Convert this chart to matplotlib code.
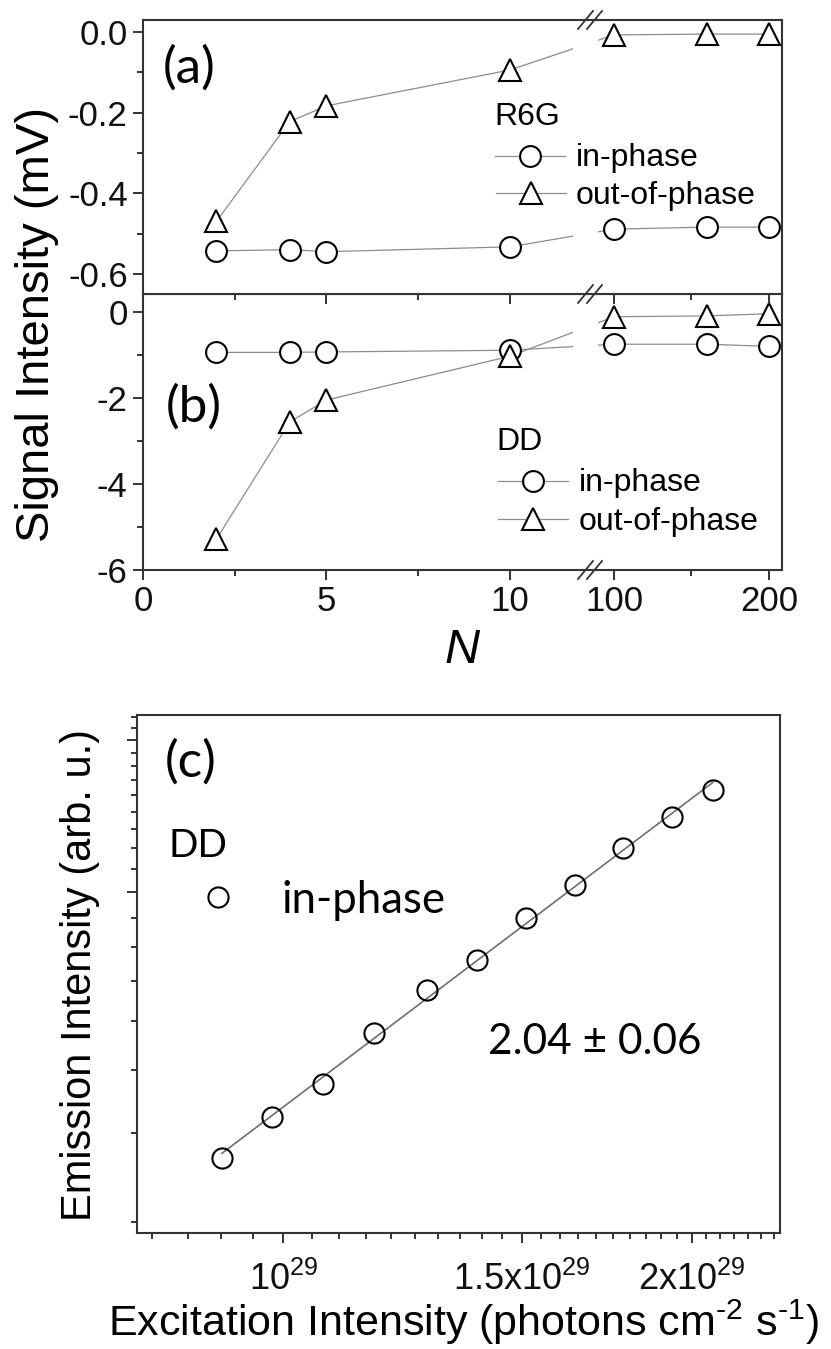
"""
Three stacked panels: (a)/(b) signal intensity vs N with a broken x axis,
(c) power-law emission vs excitation intensity on log-log axes.
"""
import numpy as np
import matplotlib
matplotlib.use('Agg')
import matplotlib.pyplot as plt
from matplotlib.lines import Line2D
from matplotlib.ticker import FixedLocator, FixedFormatter, NullFormatter

# ---- data -------------------------------------------------------------
n_vals = [2, 4, 5, 10, 100, 160, 200]
r6g_in = [-0.543, -0.540, -0.545, -0.533, -0.489, -0.484, -0.484]
r6g_out = [-0.470, -0.222, -0.183, -0.094, -0.007, -0.005, -0.005]
dd_in = [-0.93, -0.93, -0.92, -0.88, -0.74, -0.74, -0.79]
dd_out = [-5.28, -2.55, -2.04, -1.02, -0.10, -0.08, -0.03]

n_major = [0, 5, 10, 100, 200]
n_major_labels = ['0', '5', '10', '100', '200']
n_minor = [2.5, 7.5, 150]
a_yticks = [0.0, -0.2, -0.4, -0.6]
a_ylabels = ['0.0', '-0.2', '-0.4', '-0.6']
a_yminor = [-0.1, -0.3, -0.5]
b_yticks = [0, -2, -4, -6]
b_ylabels = ['0', '-2', '-4', '-6']
b_yminor = [-1, -3, -5]

# excitation intensity (photons cm^-2 s^-1) and emission (arb. u.)
exc = [0.901e29, 0.981e29, 1.070e29, 1.167e29, 1.276e29, 1.389e29,
       1.510e29, 1.641e29, 1.781e29, 1.934e29, 2.073e29]
emi = [2.67, 3.23, 3.75, 4.74, 5.76, 6.61, 8.00, 9.30, 11.02, 12.69, 14.34]
exc_major = [1e29, 1.5e29, 2e29]
exc_labels = [r'10$^{29}$', r'1.5x10$^{29}$', r'2x10$^{29}$']
exc_minor = [v * 1e29 for v in np.arange(0.80, 2.31, 0.05)
             if min(abs(v - m) for m in (1.0, 1.5, 2.0)) > 0.01]
emi_major = [9, 18]
emi_minor = [k for k in range(2, 21) if k not in emi_major]

# ---- style ------------------------------------------------------------
plt.rcParams['font.family'] = ['Liberation Sans', 'DejaVu Sans']
plt.rcParams['mathtext.fontset'] = 'custom'
plt.rcParams['mathtext.rm'] = 'Liberation Sans'
plt.rcParams['mathtext.it'] = 'Liberation Sans:italic'
plt.rcParams['axes.unicode_minus'] = False

W, H = 831, 1349
SPINE = '#333333'
LINE = '#8c8c8c'
TICK_FS = 25
LEG_FS = 23
CAL = ['Lato', 'DejaVu Sans']
TOP = 10  # zorder for figure-level annotations


def fx(px):
    return px / W


def fy(py):
    return 1 - py / H


def axes_box(left, top, right, bottom):
    return [fx(left), fy(bottom), (right - left) / W, (bottom - top) / H]


# broken x axis: 0..12.1 on the left part, 83..208 on the right part
PX_L = 36.7
PX_R = 1.55
BRK_LO = 445 / PX_L
BRK_HI = 83.23
SEG_L = 445.0


def fwd(x):
    x = np.asarray(x, dtype=float)
    right = SEG_L + (x - BRK_HI) * PX_R
    return np.where(x <= BRK_LO, x * PX_L, np.where(x >= BRK_HI, right, SEG_L))


def inv(u):
    u = np.asarray(u, dtype=float)
    return np.where(u <= SEG_L, u / PX_L, BRK_HI + (u - SEG_L) / PX_R)


fig = plt.figure(figsize=(W / 100, H / 100), dpi=100)
ax_a = fig.add_axes(axes_box(143, 20, 782, 294))
ax_b = fig.add_axes(axes_box(143, 294, 782, 570))
ax_c = fig.add_axes(axes_box(137, 715, 780, 1233))
ax_a.set_zorder(3)
ax_b.set_zorder(2)


def style_axes(ax):
    for s in ax.spines.values():
        s.set_color(SPINE)
        s.set_linewidth(1.5)
    ax.tick_params(which='both', direction='out', color=SPINE, width=1.4,
                   top=False, right=False, labelsize=TICK_FS, labelcolor='#111111')
    ax.tick_params(which='major', length=7, pad=4)
    ax.tick_params(which='minor', length=4)


def draw_series(ax, ys, marker, ms):
    ax.plot(n_vals, ys, '-', color=LINE, lw=0.9, zorder=2)
    ax.plot(n_vals, ys, linestyle='none', marker=marker, ms=ms, mfc='white',
            mec='black', mew=1.5, zorder=3, clip_on=False)


for ax, y_in, y_out in ((ax_a, r6g_in, r6g_out), (ax_b, dd_in, dd_out)):
    style_axes(ax)
    ax.set_xscale('function', functions=(fwd, inv))
    draw_series(ax, y_in, 'o', 15)
    draw_series(ax, y_out, '^', 16)
    # gap in the connecting lines at the axis break
    ax.axvspan(11.72, 89.7, color='white', lw=0, zorder=2.2)
    ax.set_xlim(0, 208.4)
    ax.xaxis.set_major_locator(FixedLocator(n_major))
    ax.xaxis.set_minor_locator(FixedLocator(n_minor))
    ax.xaxis.set_minor_formatter(NullFormatter())

ax_a.set_ylim(-0.65, 0.03)
ax_a.yaxis.set_major_locator(FixedLocator(a_yticks))
ax_a.yaxis.set_major_formatter(FixedFormatter(a_ylabels))
ax_a.yaxis.set_minor_locator(FixedLocator(a_yminor))
ax_a.tick_params(labelbottom=False)

ax_b.set_ylim(-6, 0.43)
ax_b.yaxis.set_major_locator(FixedLocator(b_yticks))
ax_b.yaxis.set_major_formatter(FixedFormatter(b_ylabels))
ax_b.yaxis.set_minor_locator(FixedLocator(b_yminor))
ax_b.xaxis.set_major_formatter(FixedFormatter(n_major_labels))
ax_b.patch.set_alpha(0)

# break marks "//"
for yc in (20, 294, 570):
    for x0 in (578, 587):
        fig.add_artist(Line2D([fx(x0), fx(x0 + 15)], [fy(yc + 9), fy(yc - 9)],
                              color=SPINE, lw=1.3, transform=fig.transFigure, zorder=TOP))

# panel labels and legends (a), (b)
fig.text(fx(163), fy(83), '(a)', fontsize=37, family=CAL, zorder=TOP)
fig.text(fx(166), fy(422), '(b)', fontsize=37, family=CAL, zorder=TOP)


def legend_row(xm, ym, marker, ms, label, xt, yt):
    fig.add_artist(Line2D([fx(xm - 35), fx(xm + 35)], [fy(ym), fy(ym)], color=LINE,
                          lw=0.9, transform=fig.transFigure, zorder=TOP))
    fig.add_artist(Line2D([fx(xm)], [fy(ym)], marker=marker, ms=ms, mfc='white',
                          mec='black', mew=1.5, ls='none', transform=fig.transFigure,
                          zorder=TOP + 1))
    fig.text(fx(xt), fy(yt), label, fontsize=LEG_FS, va='baseline', zorder=TOP)


fig.text(fx(494), fy(125), 'R6G', fontsize=LEG_FS, va='baseline', zorder=TOP)
legend_row(530, 156, 'o', 15, 'in-phase', 576, 166)
legend_row(531, 193, '^', 16, 'out-of-phase', 576, 204)
fig.text(fx(496), fy(450), 'DD', fontsize=LEG_FS, va='baseline', zorder=TOP)
legend_row(533, 481, 'o', 15, 'in-phase', 579, 491)
legend_row(533, 519, '^', 16, 'out-of-phase', 579, 530)

fig.text(fx(37), fy(325), 'Signal Intensity (mV)', fontsize=34, rotation=90,
         ha='center', va='center')
fig.text(fx(462), fy(650), 'N', fontsize=35, style='italic', ha='center', va='center')

# ---- panel (c) --------------------------------------------------------
style_axes(ax_c)
ax_c.set_xscale('log')
ax_c.set_yscale('log')
slope, icpt = np.polyfit(np.log10(exc), np.log10(emi), 1)
x_fit = np.array([exc[0], exc[-1]])
ax_c.plot(x_fit, 10 ** (icpt + slope * np.log10(x_fit)), color='#6e6e6e', lw=1.2, zorder=2)
ax_c.plot(exc, emi, linestyle='none', marker='o', ms=14.5, mfc='none', mec='black',
          mew=1.5, zorder=3)
ax_c.set_xlim(0.78e29, 2.324e29)
ax_c.set_ylim(1.90, 20.2)
ax_c.xaxis.set_major_locator(FixedLocator(exc_major))
ax_c.xaxis.set_major_formatter(FixedFormatter(exc_labels))
ax_c.xaxis.set_minor_locator(FixedLocator(exc_minor))
ax_c.xaxis.set_minor_formatter(NullFormatter())
ax_c.yaxis.set_major_locator(FixedLocator(emi_major))
ax_c.yaxis.set_minor_locator(FixedLocator(emi_minor))
ax_c.yaxis.set_major_formatter(NullFormatter())
ax_c.yaxis.set_minor_formatter(NullFormatter())
ax_c.tick_params(axis='x', which='major', labelsize=26, pad=14)

fig.text(fx(165), fy(777), '(c)', fontsize=37, family=CAL, va='baseline', zorder=TOP)
fig.text(fx(168), fy(857), 'DD', fontsize=28, family=CAL, va='baseline', zorder=TOP)
fig.add_artist(Line2D([fx(218)], [fy(897)], marker='o', ms=14.5, mfc='none', mec='black',
                      mew=1.5, ls='none', transform=fig.transFigure, zorder=TOP))
fig.text(fx(281), fy(913), 'in-phase', fontsize=31.5, family=CAL, va='baseline', zorder=TOP)
fig.text(fx(488), fy(1054), '2.04 \u00b1 0.06', fontsize=30.5, family=CAL, va='baseline',
         zorder=TOP)

fig.text(fx(80), fy(975), 'Emission Intensity (arb. u.)', fontsize=30, rotation=90,
         ha='center', va='center')
fig.text(fx(463), fy(1322),
         r'Excitation Intensity (photons cm$^{\text{-2}}$ s$^{\text{-1}}$)',
         fontsize=31, ha='center', va='center')

fig.savefig('out.png', dpi=100)
